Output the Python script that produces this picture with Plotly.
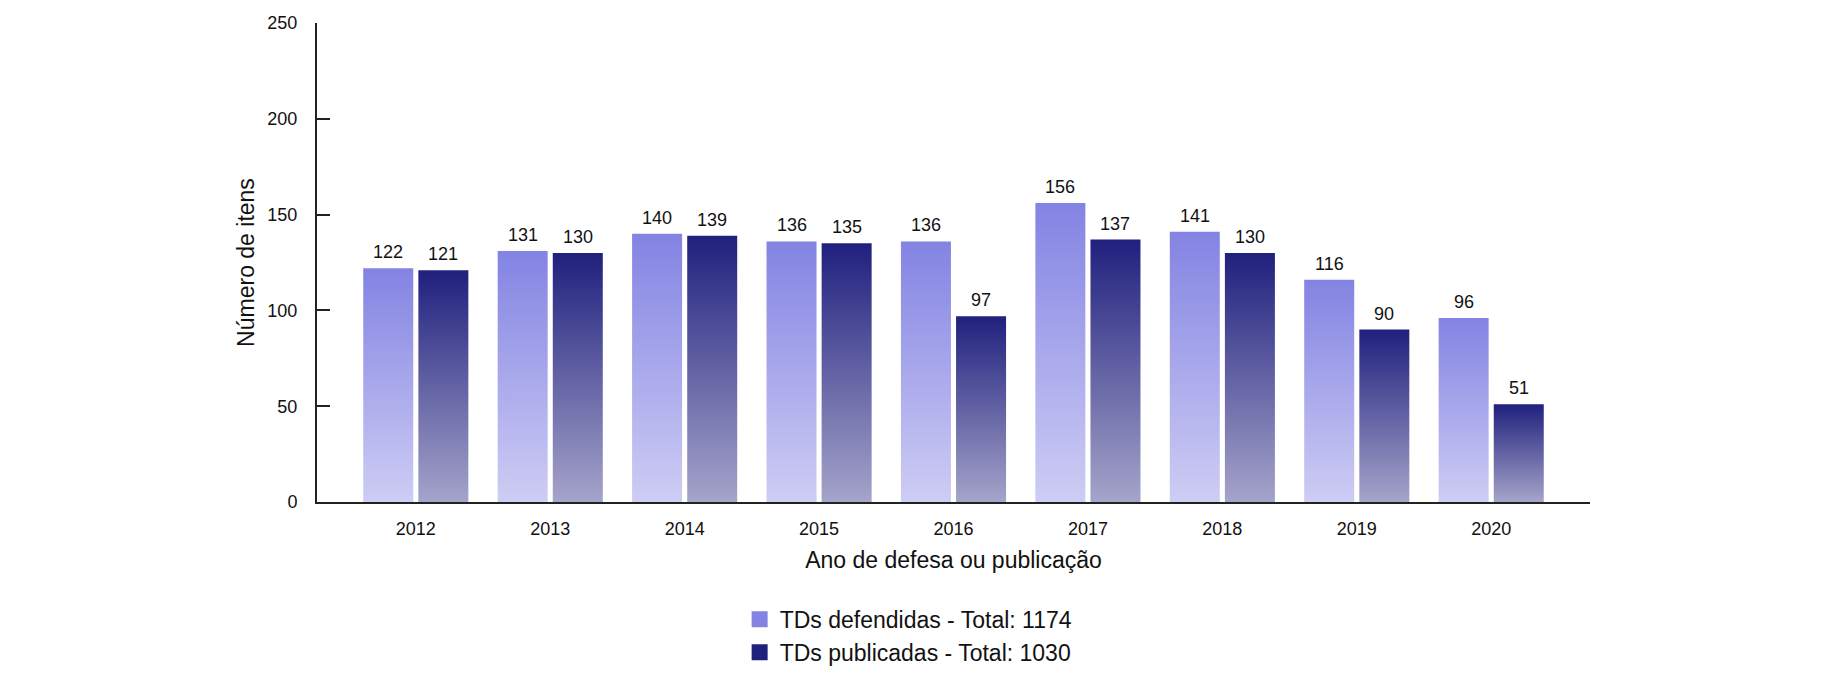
import plotly.graph_objects as go

years = ["2012", "2013", "2014", "2015", "2016", "2017", "2018", "2019", "2020"]
defendidas = [122, 131, 140, 136, 136, 156, 141, 116, 96]
publicadas = [121, 130, 139, 135, 97, 137, 130, 90, 51]
series_names = ["TDs defendidas - Total: 1174", "TDs publicadas - Total: 1030"]

light_top, light_bottom = "#8383e3", "#cecdf4"
dark_top, dark_bottom = "#20207e", "#a5a4ca"

FONT = "Liberation Sans, Arial, Helvetica, sans-serif"
half_w = 0.186
offset = 0.205

fig = go.Figure()

def add_series(values, off, top_c, bot_c, name):
    for i, v in enumerate(values):
        xc = i + off
        fig.add_trace(go.Scatter(
            x=[xc - half_w, xc + half_w, xc + half_w, xc - half_w, xc - half_w],
            y=[0, 0, v, v, 0],
            mode="lines", line=dict(width=0), fill="toself",
            fillgradient=dict(type="vertical", start=0, stop=v,
                              colorscale=[[0, bot_c], [1, top_c]]),
            showlegend=False, hoverinfo="skip",
        ))
        fig.add_annotation(x=xc, y=v, text=str(v), showarrow=False,
                           yanchor="bottom", yshift=4,
                           font=dict(family=FONT, size=18, color="#111"))
    fig.add_trace(go.Scatter(
        x=[None], y=[None], mode="markers", name=name,
        marker=dict(symbol="square", size=20, color=top_c),
    ))

add_series(defendidas, -offset, light_top, light_bottom, series_names[0])
add_series(publicadas, offset, dark_top, dark_bottom, series_names[1])

fig.update_layout(
    width=1820, height=667,
    margin=dict(l=309, r=238, t=15, b=173, autoexpand=False),
    paper_bgcolor="white", plot_bgcolor="white",
    font=dict(family=FONT, color="#111", size=18),
    xaxis=dict(
        range=[-0.735, 8.735], tickmode="array",
        tickvals=list(range(len(years))), ticktext=years,
        showline=True, linecolor="#222", linewidth=2, ticks="",
        showgrid=False, zeroline=False, ticklabelstandoff=9,
        tickfont=dict(size=18), automargin=False,
        title=dict(text="Ano de defesa ou publicação", font=dict(size=23), standoff=14),
        fixedrange=True,
    ),
    yaxis=dict(
        range=[0, 250], tickmode="linear", tick0=0, dtick=50,
        showline=True, linecolor="#222", linewidth=2,
        ticks="inside", ticklen=13, tickwidth=2, tickcolor="#222",
        showgrid=False, zeroline=False, ticklabelstandoff=14,
        tickfont=dict(size=18), automargin=False,
        title=dict(text="Número de itens", font=dict(size=23), standoff=6),
        fixedrange=True,
    ),
    legend=dict(
        x=0.332, xanchor="left", y=-0.2, yanchor="top",
        font=dict(size=23), bgcolor="rgba(0,0,0,0)",
        itemsizing="trace", tracegroupgap=0,
    ),
    showlegend=True,
)

fig.write_html("out.html")
